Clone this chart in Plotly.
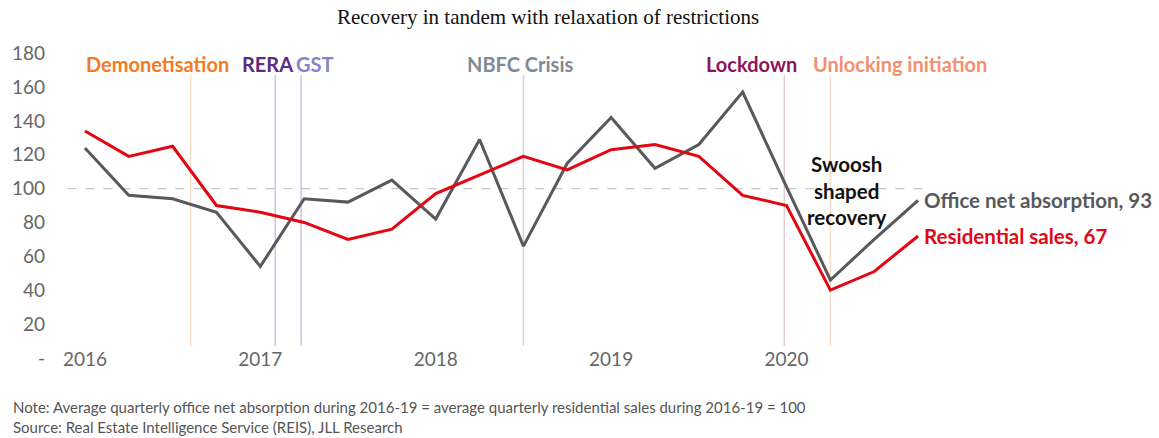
import plotly.graph_objects as go

quarters = ["2016Q1","2016Q2","2016Q3","2016Q4","2017Q1","2017Q2","2017Q3","2017Q4",
            "2018Q1","2018Q2","2018Q3","2018Q4","2019Q1","2019Q2","2019Q3","2019Q4",
            "2020Q1","2020Q2","2020Q3","2020Q4"]
residential = [134, 119, 125, 90, 86, 80, 70, 76, 97, 108, 119, 111, 123, 126, 119, 96, 90, 40, 51, 72]
office = [124, 96, 94, 86, 54, 94, 92, 105, 82, 129, 66, 115, 142, 112, 126, 157, 101, 46, 70, 93]

year_ticks = [0, 4, 8, 12, 16]
year_labels = ["2016", "2017", "2018", "2019", "2020"]
y_ticks = [20, 40, 60, 80, 100, 120, 140, 160, 180]

events = ["Demonetisation", "RERA", "GST", "NBFC Crisis", "Lockdown", "Unlocking initiation"]
event_pos = [2.41, 4.34, 4.93, 10.0, 15.95, 17.0]
event_label_left = [0.068, 3.636, 4.86, 8.77, 14.2, 16.64]
event_text_colors = ["#F37A21", "#5B2C83", "#8885C6", "#7E8A96", "#8E1458", "#F4906E"]
event_line_colors = ["#FADCC4", "#C9C6E4", "#C9C6E4", "#D4D4D4", "#E2CAD4", "#FADCC8"]

xs = list(range(len(quarters)))

fig = go.Figure()
fig.add_trace(go.Scatter(x=xs, y=office, mode="lines", line=dict(color="#58595B", width=3),
                         name="Office net absorption", hoverinfo="skip"))
fig.add_trace(go.Scatter(x=xs, y=residential, mode="lines", line=dict(color="#E30613", width=3),
                         name="Residential sales", hoverinfo="skip"))

shapes = []
shapes.append(dict(type="line", xref="x", yref="y", x0=-0.4, x1=19.15, y0=100, y1=100,
                   line=dict(color="#C8C8C8", width=1.2, dash="dash"), layer="below"))
for p, c in zip(event_pos, event_line_colors):
    shapes.append(dict(type="line", xref="x", yref="y", x0=p, x1=p, y0=7, y1=167,
                       line=dict(color=c, width=1.5), layer="below"))

ann = []
for t, x, c in zip(events, event_label_left, event_text_colors):
    ann.append(dict(x=x, y=173.5, xref="x", yref="y", text="<b>%s</b>" % t, showarrow=False,
                    font=dict(family="Lato", size=20, color=c), xanchor="left", yanchor="middle",
                    xshift=-4))

ann.append(dict(x=17.39, y=99, xref="x", yref="y", text="<b>Swoosh<br>shaped<br>recovery</b>",
                showarrow=False, font=dict(family="Lato", size=20.5, color="#111111"),
                xanchor="center", yanchor="middle", align="center"))
ann.append(dict(x=19.1, y=93, xref="x", yref="y", text="<b>Office net absorption, 93</b>",
                showarrow=False, font=dict(family="Lato", size=20.5, color="#58595B"),
                xanchor="left", yanchor="middle"))
ann.append(dict(x=19.1, y=72, xref="x", yref="y", text="<b>Residential sales, 67</b>",
                showarrow=False, font=dict(family="Lato", size=20.5, color="#E30613"),
                xanchor="left", yanchor="middle"))
# zero tick shown as "-"
ann.append(dict(x=-0.025, y=-0.039, xref="paper", yref="paper", text="-", showarrow=False,
                font=dict(family="Lato", size=19, color="#666666"), xanchor="center", yanchor="middle"))
ann.append(dict(x=0.553, y=1.086, xref="paper", yref="paper",
                text="Recovery in tandem with relaxation of restrictions", showarrow=False,
                font=dict(family="Liberation Serif", size=21, color="#111111"),
                xanchor="center", yanchor="middle"))
ann.append(dict(x=-0.0591, y=-0.233, xref="paper", yref="paper",
                text="Note: Average quarterly office net absorption during 2016-19 = average quarterly residential sales during 2016-19 = 100<br>Source: Real Estate Intelligence Service (REIS), JLL Research",
                showarrow=False, font=dict(family="Lato", size=15, color="#555555"),
                xanchor="left", yanchor="middle", align="left"))

fig.update_layout(
    width=1159, height=438,
    margin=dict(l=60, r=219, t=43, b=92),
    plot_bgcolor="white", paper_bgcolor="white",
    showlegend=False,
    shapes=shapes, annotations=ann,
    xaxis=dict(range=[-0.5, 19.5], tickvals=year_ticks, ticktext=year_labels, showgrid=False,
               zeroline=False, showline=False, ticks="",
               tickfont=dict(family="Lato", size=19, color="#666666")),
    yaxis=dict(range=[7, 186], tickvals=y_ticks, showgrid=False, zeroline=False, showline=False,
               ticks="", ticklabelstandoff=17,
               tickfont=dict(family="Lato", size=19, color="#666666")),
)

fig.write_html("out.html")
